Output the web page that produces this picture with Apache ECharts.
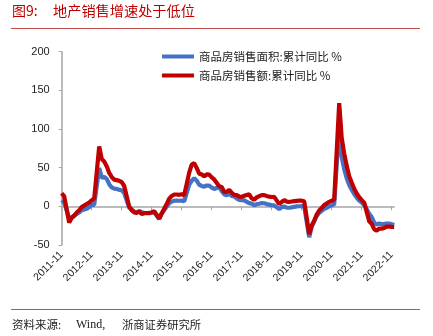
<!DOCTYPE html>
<html>
<head>
<meta charset="utf-8">
<script src="https://cdn.jsdelivr.net/npm/echarts@6/dist/echarts.min.js"></script>
<style>
html,body{margin:0;padding:0;background:#fff;}
#c{width:433px;height:336px;}
</style>
</head>
<body>
<div id="c"></div>
<script>
// Monthly categories 2011-11 .. 2022-12
const months = [];
for (let y = 2011; y <= 2022; y++) {
  for (let m = 1; m <= 12; m++) {
    if (y === 2011 && m < 11) continue;
    months.push(y + '-' + (m < 10 ? '0' + m : m));
  }
}
const tickLabels = ['2011-11','2012-11','2013-11','2014-11','2015-11','2016-11','2017-11','2018-11','2019-11','2020-11','2021-11','2022-11'];

// 商品房销售面积:累计同比 % (January not published -> null)
const areaYoY = [
  8, 5,
  null, -16, -14, -12, -10, -8, -5, -4, -3, -1, 2, 2,
  null, 49.5, 37.1, 38.0, 35.6, 28.7, 24.4, 22.8, 22.7, 21.2, 20.8, 17.3,
  null, -1.8, -3.8, -6.7, -7.8, -6.0, -7.6, -8.3, -8.6, -8.3, -8.2, -7.6,
  null, -16.3, -9.2, -4.8, -0.2, 3.9, 6.1, 7.2, 7.5, 7.2, 7.4, 6.5,
  null, 28.2, 33.1, 36.5, 33.2, 27.9, 26.4, 25.5, 26.9, 26.8, 24.3, 22.5,
  null, 25.1, 19.5, 15.7, 14.3, 16.1, 13.5, 12.7, 10.3, 8.2, 7.9, 7.7,
  null, 4.1, 3.6, 1.3, 2.9, 3.3, 4.2, 4.0, 2.9, 2.2, 1.4, 1.3,
  null, -3.6, -0.9, -0.3, -1.6, -1.8, -1.3, -0.6, -0.1, 0.1, 0.2, -0.1,
  null, -39.9, -26.3, -19.3, -12.3, -8.4, -5.8, -3.3, -1.8, 0.0, 1.3, 2.6,
  null, 104.9, 63.8, 48.1, 36.3, 27.7, 21.5, 15.9, 11.3, 7.3, 4.8, 1.9,
  null, -9.6, -13.8, -20.9, -23.6, -22.2, -23.1, -23.0, -22.2, -22.3, -23.3, -24.3
];
// 商品房销售额:累计同比 %
const amountYoY = [
  17, 13,
  null, -20.9, -15.1, -12, -8, -5, -1, 1, 3, 5, 7.9, 10.0,
  null, 77.4, 61.2, 58.0, 52.0, 43.2, 38.0, 34.6, 33.9, 33.1, 31.3, 26.3,
  null, -0.1, -5.2, -7.8, -8.5, -6.7, -10.1, -8.9, -8.9, -8.9, -7.8, -6.3,
  null, -15.8, -9.3, -3.1, 3.0, 10.0, 13.4, 15.3, 15.3, 14.9, 15.6, 14.4,
  null, 43.6, 54.1, 55.9, 49.7, 42.1, 41.3, 38.7, 41.3, 41.0, 37.5, 34.8,
  null, 26.0, 25.1, 18.8, 18.6, 21.5, 17.6, 14.8, 14.6, 12.6, 12.2, 13.7,
  null, 15.5, 10.4, 8.5, 11.6, 13.2, 14.5, 14.5, 13.3, 12.5, 12.1, 12.2,
  null, 2.8, 5.6, 8.1, 6.1, 5.6, 6.2, 6.7, 7.1, 7.3, 7.3, 6.5,
  null, -35.9, -24.7, -18.6, -10.6, -5.4, -2.1, 1.6, 3.7, 5.8, 7.2, 8.7,
  null, 133.4, 88.5, 68.2, 52.4, 38.9, 30.7, 22.8, 16.6, 11.8, 8.0, 4.8,
  null, -19.3, -22.7, -29.5, -31.5, -28.9, -28.8, -27.9, -26.3, -26.1, -26.6, -26.7
];
const seriesNames = ['商品房销售面积:累计同比 %', '商品房销售额:累计同比 %'];
const yTicks = [-50, 0, 50, 100, 150, 200];

const isYearTick = (i) => tickLabels.indexOf(months[i]) >= 0;

const chart = echarts.init(document.getElementById('c'), null, {renderer: 'canvas'});
const axisGray = '#A6A6A6';
chart.setOption({
  animation: false,
  backgroundColor: '#fff',
  grid: {left: 61.7, right: 38.8, top: 51.7, bottom: 91, containLabel: false},
  legend: {
    orient: 'vertical', left: 157, top: 45.5,
    itemWidth: 32, itemHeight: 4, itemGap: 7, icon: 'rect',
    textStyle: {fontFamily: 'Noto Sans CJK SC', fontSize: 11.5, color: '#222', lineHeight: 12},
    data: seriesNames
  },
  xAxis: [
    {
      type: 'category', data: months, boundaryGap: false,
      axisLine: {onZero: true, lineStyle: {color: axisGray, width: 1.5}},
      axisTick: {show: true, length: 4, interval: (i) => isYearTick(i), lineStyle: {color: axisGray}},
      axisLabel: {show: false}, splitLine: {show: false}
    },
    {
      type: 'category', data: months, boundaryGap: false, position: 'bottom',
      axisLine: {show: false, onZero: false}, axisTick: {show: false},
      axisLabel: {
        show: true, rotate: 45, margin: 8, interval: (i) => isYearTick(i),
        fontFamily: 'Liberation Sans', fontSize: 10.5, color: '#222'
      },
      splitLine: {show: false}
    }
  ],
  yAxis: {
    type: 'value', min: yTicks[0], max: yTicks[yTicks.length - 1], interval: 50,
    axisLine: {show: true, lineStyle: {color: axisGray, width: 1.5}},
    axisTick: {show: true, length: 3, lineStyle: {color: axisGray}},
    axisLabel: {margin: 12, fontFamily: 'Liberation Sans', fontSize: 11, color: '#222'},
    splitLine: {show: false}
  },
  series: [
    {
      name: seriesNames[0], type: 'line', data: areaYoY, xAxisIndex: 0,
      symbol: 'none', connectNulls: true,
      lineStyle: {width: 4.2, color: '#4472C4'}, itemStyle: {color: '#4472C4'}
    },
    {
      name: seriesNames[1], type: 'line', data: amountYoY, xAxisIndex: 0,
      symbol: 'none', connectNulls: true,
      lineStyle: {width: 4.2, color: '#C00000'}, itemStyle: {color: '#C00000'}
    }
  ],
  graphic: [
    {type: 'text', left: 12, top: 4, style: {text: '图9:', fill: '#C00000', font: '14px "Noto Sans CJK SC"'}},
    {type: 'text', left: 53, top: 4, style: {text: '地产销售增速处于低位', fill: '#C00000', font: '14.2px "Noto Sans CJK SC"'}},
    {type: 'rect', shape: {x: 11, y: 28, width: 409, height: 1}, style: {fill: '#C0504D'}},
    {type: 'rect', shape: {x: 11, y: 309, width: 409, height: 1}, style: {fill: '#C0504D'}},
    {type: 'text', left: 12, top: 319, style: {text: '资料来源:', fill: '#222', font: '11.5px "Noto Sans CJK SC"'}},
    {type: 'text', left: 76, top: 319, style: {text: 'Wind,', fill: '#222', font: '12px "Liberation Serif"'}},
    {type: 'text', left: 122, top: 319, style: {text: '浙商证券研究所', fill: '#222', font: '11.3px "Noto Sans CJK SC"'}}
  ]
});
</script>
</body>
</html>
